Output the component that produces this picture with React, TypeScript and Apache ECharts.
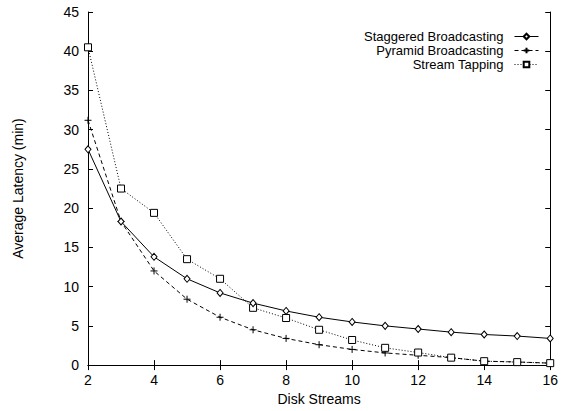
import React, { useEffect, useRef } from "react";
import * as echarts from "echarts";

const diskStreams = [2, 3, 4, 5, 6, 7, 8, 9, 10, 11, 12, 13, 14, 15, 16];
const staggered = [27.5, 18.3, 13.8, 11.0, 9.2, 7.9, 6.9, 6.1, 5.5, 5.0, 4.6, 4.2, 3.9, 3.7, 3.4];
const pyramid = [31.2, 18.3, 12.0, 8.4, 6.1, 4.5, 3.4, 2.6, 2.0, 1.55, 1.25, 0.95, 0.5, 0.4, 0.25];
const tapping = [40.5, 22.5, 19.4, 13.5, 11.0, 7.3, 6.0, 4.5, 3.2, 2.2, 1.6, 0.95, 0.5, 0.38, 0.25];
const seriesNames = ["Staggered Broadcasting", "Pyramid Broadcasting", "Stream Tapping"];

const FONT = "Liberation Sans, Arial, Helvetica, sans-serif";

export default function App() {
  const ref = useRef<HTMLDivElement>(null);
  useEffect(() => {
    if (!ref.current) return;
    const chart = echarts.init(ref.current, undefined, { renderer: "svg" });
    const pairs = (ys: number[]) => diskStreams.map((x, i) => [x, ys[i]]);
    const axisCommon = {
      axisLine: { show: true, lineStyle: { color: "#000", width: 1 } },
      axisTick: { show: true, inside: true, length: 5, lineStyle: { color: "#000" } },
      splitLine: { show: false },
    };
    const legendBase = {
      orient: "vertical",
      align: "right",
      right: 22,
      padding: 0,
      itemWidth: 24,
      itemHeight: 7,
      lineStyle: { width: 1 },
      textStyle: { fontFamily: FONT, fontSize: 13, lineHeight: 13, color: "#000", padding: [0, 6, 0, 0] },
      inactiveColor: "#000",
      selectedMode: false,
    };
    chart.setOption({
      animation: false,
      backgroundColor: "#fff",
      textStyle: { fontFamily: FONT },
      grid: { left: 88, right: 8, top: 12, bottom: 39 },
      legend: [
        { ...legendBase, top: 30, data: [seriesNames[0]] },
        { ...legendBase, top: 44, data: [seriesNames[1]] },
        { ...legendBase, top: 58, data: [seriesNames[2]] },
      ],
      xAxis: [
        {
          type: "value",
          min: 2,
          max: 16,
          interval: 2,
          name: "Disk Streams",
          nameLocation: "middle",
          nameGap: 21,
          nameTextStyle: { fontFamily: FONT, fontSize: 14, color: "#000", verticalAlign: "top" },
          axisLabel: { fontFamily: FONT, fontSize: 14, color: "#000", margin: 8 },
          ...axisCommon,
        },
        {
          type: "value",
          position: "top",
          min: 2,
          max: 16,
          interval: 2,
          axisLabel: { show: false },
          ...axisCommon,
        },
      ],
      yAxis: [
        {
          type: "value",
          min: 0,
          max: 45,
          interval: 5,
          name: "Average Latency (min)",
          nameLocation: "middle",
          nameGap: 63,
          nameTextStyle: { fontFamily: FONT, fontSize: 14, color: "#000" },
          axisLabel: { fontFamily: FONT, fontSize: 14, color: "#000", margin: 9 },
          ...axisCommon,
        },
        {
          type: "value",
          position: "right",
          min: 0,
          max: 45,
          interval: 5,
          axisLabel: { show: false },
          ...axisCommon,
        },
      ],
      series: [
        {
          name: seriesNames[0],
          type: "line",
          data: pairs(staggered),
          symbol: "diamond",
          symbolSize: [6, 7],
          showAllSymbol: true,
          lineStyle: { color: "#000", width: 1, type: "solid" },
          itemStyle: { color: "#fff", borderColor: "#000", borderWidth: 1 },
          z: 3,
        },
        {
          name: seriesNames[1],
          type: "line",
          data: pairs(pyramid),
          symbol: "path://M0,5L10,5M5,0L5,10",
          symbolSize: 7,
          showAllSymbol: true,
          lineStyle: { color: "#000", width: 1, type: [4, 3] },
          itemStyle: { color: "#000", borderColor: "#000", borderWidth: 1 },
          z: 2,
        },
        {
          name: seriesNames[2],
          type: "line",
          data: pairs(tapping),
          symbol: "rect",
          symbolSize: 7,
          showAllSymbol: true,
          lineStyle: { color: "#000", width: 1, type: [1, 2] },
          itemStyle: { color: "#fff", borderColor: "#000", borderWidth: 1 },
          z: 2,
        },
      ],
    });
    return () => chart.dispose();
  }, []);
  return <div ref={ref} style={{ width: 561, height: 411, position: "absolute", left: 0, top: 0 }} />;
}
